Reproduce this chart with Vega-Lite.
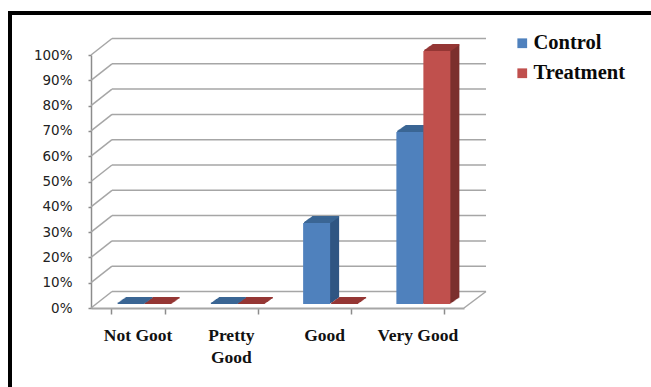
{"$schema":"https://vega.github.io/schema/vega-lite/v6.json","width":373,"height":253,"autosize":{"type":"none"},"padding":{"left":91,"top":55,"right":187,"bottom":79},"background":"#ffffff","config":{"view":{"stroke":null},"axisY":{"format":".0%","tickCount":11,"grid":false,"labelOverlap":false,"domainColor":"#8C8C8C","domainWidth":1.5,"tickColor":"#8C8C8C","tickSize":3,"tickWidth":1.5,"labelFont":"DejaVu Sans","labelFontSize":13.5,"labelColor":"#222222","labelPadding":16,"titleOpacity":0}},"datasets":{"answers":[{"answer":"Not Goot","group":"Control","share":0},{"answer":"Not Goot","group":"Treatment","share":0},{"answer":"Pretty Good","group":"Control","share":0},{"answer":"Pretty Good","group":"Treatment","share":0},{"answer":"Good","group":"Control","share":0.32},{"answer":"Good","group":"Treatment","share":0},{"answer":"Very Good","group":"Control","share":0.68},{"answer":"Very Good","group":"Treatment","share":1}],"levels":[{"level":0},{"level":0.1},{"level":0.2},{"level":0.3},{"level":0.4},{"level":0.5},{"level":0.6},{"level":0.7},{"level":0.8},{"level":0.9},{"level":1}]},"layer":[{"layer":[{"data":{"values":[{"side":"frame"}]},"mark":{"type":"rule","stroke":"#000000","strokeWidth":4,"yOffset":-42,"xOffset":-81,"x2Offset":200},"encoding":{"x":{"datum":0,"type":"quantitative","scale":{"domain":[0,1]},"axis":null},"x2":{"datum":1},"y":{"datum":1,"type":"quantitative","scale":{"domain":[0,1]}}}},{"data":{"values":[{"side":"frame"}]},"mark":{"type":"rule","stroke":"#000000","strokeWidth":4,"xOffset":-81,"yOffset":-44,"y2Offset":90},"encoding":{"x":{"datum":0,"type":"quantitative","axis":null},"y":{"datum":1,"type":"quantitative"},"y2":{"datum":0}}},{"data":{"name":"levels"},"mark":{"type":"rule","stroke":"#A6A6A6","strokeWidth":1.5,"xOffset":21,"x2Offset":22,"yOffset":-16.5},"encoding":{"x":{"datum":0,"type":"quantitative","axis":null},"x2":{"datum":1},"y":{"field":"level","type":"quantitative"}}},{"data":{"name":"levels"},"mark":{"type":"rule","stroke":"#A6A6A6","strokeWidth":1.5,"x2Offset":21,"y2Offset":-16.5},"encoding":{"x":{"datum":0,"type":"quantitative","axis":null},"x2":{"datum":0},"y":{"field":"level","type":"quantitative"},"y2":{"field":"level"}}},{"data":{"values":[{"side":"floor"}]},"mark":{"type":"rule","stroke":"#A6A6A6","strokeWidth":1.5,"x2Offset":22,"y2Offset":-16.5},"encoding":{"x":{"datum":1,"type":"quantitative","axis":null},"x2":{"datum":1},"y":{"datum":0,"type":"quantitative"},"y2":{"datum":0}}}]},{"data":{"name":"answers"},"encoding":{"x":{"field":"answer","type":"nominal","sort":["Not Goot","Pretty Good","Good","Very Good"],"scale":{"paddingInner":0.42,"paddingOuter":0.21},"axis":{"title":null,"labelAngle":0,"labelExpr":"datum.label == 'Pretty Good' ? ['Pretty','Good'] : datum.label","tickBand":"extent","domainColor":"#A6A6A6","domainWidth":2,"tickColor":"#8C8C8C","tickSize":6,"tickWidth":1.5,"labelFont":"Liberation Serif","labelFontWeight":"bold","labelFontSize":17.5,"labelColor":"#111111","labelPadding":12,"labelLineHeight":22}},"y":{"field":"share","type":"quantitative","stack":null}},"layer":[{"mark":{"type":"bar","width":27,"xOffset":{"expr":"datum.group == 'Control' ? -6.5 : 20.5"},"yOffset":-4.7,"y2Offset":-4.7},"encoding":{"y2":{"datum":0},"fill":{"field":"group","type":"nominal","scale":{"range":["#2F5582","#7B2F2D"]},"legend":null}}},{"mark":{"type":"bar","width":27,"xOffset":{"expr":"datum.group == 'Control' ? -5.5 : 21.5"},"yOffset":-5.4,"y2Offset":-5.4},"encoding":{"y2":{"datum":0},"fill":{"field":"group","type":"nominal","legend":null}}},{"mark":{"type":"bar","width":27,"xOffset":{"expr":"datum.group == 'Control' ? -4.5 : 22.5"},"yOffset":-6.1,"y2Offset":-6.1},"encoding":{"y2":{"datum":0},"fill":{"field":"group","type":"nominal","legend":null}}},{"mark":{"type":"bar","width":27,"xOffset":{"expr":"datum.group == 'Control' ? -3.5 : 23.5"},"yOffset":-6.8,"y2Offset":-6.8},"encoding":{"y2":{"datum":0},"fill":{"field":"group","type":"nominal","legend":null}}},{"mark":{"type":"bar","width":27,"xOffset":{"expr":"datum.group == 'Control' ? -2.5 : 24.5"},"yOffset":-7.5,"y2Offset":-7.5},"encoding":{"y2":{"datum":0},"fill":{"field":"group","type":"nominal","legend":null}}},{"mark":{"type":"bar","width":27,"xOffset":{"expr":"datum.group == 'Control' ? -1.5 : 25.5"},"yOffset":-8.2,"y2Offset":-8.2},"encoding":{"y2":{"datum":0},"fill":{"field":"group","type":"nominal","legend":null}}},{"mark":{"type":"bar","width":27,"xOffset":{"expr":"datum.group == 'Control' ? -0.5 : 26.5"},"yOffset":-8.9,"y2Offset":-8.9},"encoding":{"y2":{"datum":0},"fill":{"field":"group","type":"nominal","legend":null}}},{"mark":{"type":"bar","width":27,"xOffset":{"expr":"datum.group == 'Control' ? 0.5 : 27.5"},"yOffset":-9.6,"y2Offset":-9.6},"encoding":{"y2":{"datum":0},"fill":{"field":"group","type":"nominal","legend":null}}},{"mark":{"type":"bar","width":27,"xOffset":{"expr":"datum.group == 'Control' ? 1.5 : 28.5"},"yOffset":-10.3,"y2Offset":-10.3},"encoding":{"y2":{"datum":0},"fill":{"field":"group","type":"nominal","legend":null}}},{"mark":{"type":"bar","width":27,"fill":"transparent","strokeWidth":1.4,"xOffset":{"expr":"datum.group == 'Control' ? -6.5 : 20.5"},"yOffset":-4.7,"y2Offset":-4.7},"encoding":{"y2":{"field":"share"},"stroke":{"field":"group","type":"nominal","scale":{"range":["#3B6694","#953735"]},"legend":null}}},{"mark":{"type":"bar","width":27,"fill":"transparent","strokeWidth":1.4,"xOffset":{"expr":"datum.group == 'Control' ? -5.5 : 21.5"},"yOffset":-5.4,"y2Offset":-5.4},"encoding":{"y2":{"field":"share"},"stroke":{"field":"group","type":"nominal","legend":null}}},{"mark":{"type":"bar","width":27,"fill":"transparent","strokeWidth":1.4,"xOffset":{"expr":"datum.group == 'Control' ? -4.5 : 22.5"},"yOffset":-6.1,"y2Offset":-6.1},"encoding":{"y2":{"field":"share"},"stroke":{"field":"group","type":"nominal","legend":null}}},{"mark":{"type":"bar","width":27,"fill":"transparent","strokeWidth":1.4,"xOffset":{"expr":"datum.group == 'Control' ? -3.5 : 23.5"},"yOffset":-6.8,"y2Offset":-6.8},"encoding":{"y2":{"field":"share"},"stroke":{"field":"group","type":"nominal","legend":null}}},{"mark":{"type":"bar","width":27,"fill":"transparent","strokeWidth":1.4,"xOffset":{"expr":"datum.group == 'Control' ? -2.5 : 24.5"},"yOffset":-7.5,"y2Offset":-7.5},"encoding":{"y2":{"field":"share"},"stroke":{"field":"group","type":"nominal","legend":null}}},{"mark":{"type":"bar","width":27,"fill":"transparent","strokeWidth":1.4,"xOffset":{"expr":"datum.group == 'Control' ? -1.5 : 25.5"},"yOffset":-8.2,"y2Offset":-8.2},"encoding":{"y2":{"field":"share"},"stroke":{"field":"group","type":"nominal","legend":null}}},{"mark":{"type":"bar","width":27,"fill":"transparent","strokeWidth":1.4,"xOffset":{"expr":"datum.group == 'Control' ? -0.5 : 26.5"},"yOffset":-8.9,"y2Offset":-8.9},"encoding":{"y2":{"field":"share"},"stroke":{"field":"group","type":"nominal","legend":null}}},{"mark":{"type":"bar","width":27,"fill":"transparent","strokeWidth":1.4,"xOffset":{"expr":"datum.group == 'Control' ? 0.5 : 27.5"},"yOffset":-9.6,"y2Offset":-9.6},"encoding":{"y2":{"field":"share"},"stroke":{"field":"group","type":"nominal","legend":null}}},{"mark":{"type":"bar","width":27,"fill":"transparent","strokeWidth":1.4,"xOffset":{"expr":"datum.group == 'Control' ? 1.5 : 28.5"},"yOffset":-10.3,"y2Offset":-10.3},"encoding":{"y2":{"field":"share"},"stroke":{"field":"group","type":"nominal","legend":null}}},{"transform":[{"filter":"datum.share > 0"}],"mark":{"type":"bar","width":27,"xOffset":{"expr":"datum.group == 'Control' ? -7.5 : 19.5"},"yOffset":-4,"y2Offset":-4},"encoding":{"y2":{"datum":0},"color":{"field":"group","type":"nominal","scale":{"domain":["Control","Treatment"],"range":["#4F81BD","#C0504D"]},"legend":{"title":null,"orient":"none","legendX":421,"legendY":-22,"symbolType":"square","symbolSize":95,"symbolStrokeWidth":0,"labelFont":"Liberation Serif","labelFontWeight":"bold","labelFontSize":20.5,"labelColor":"#0A0A0A","labelOffset":1,"rowPadding":9}}}}]}],"resolve":{"scale":{"x":"independent"}}}
